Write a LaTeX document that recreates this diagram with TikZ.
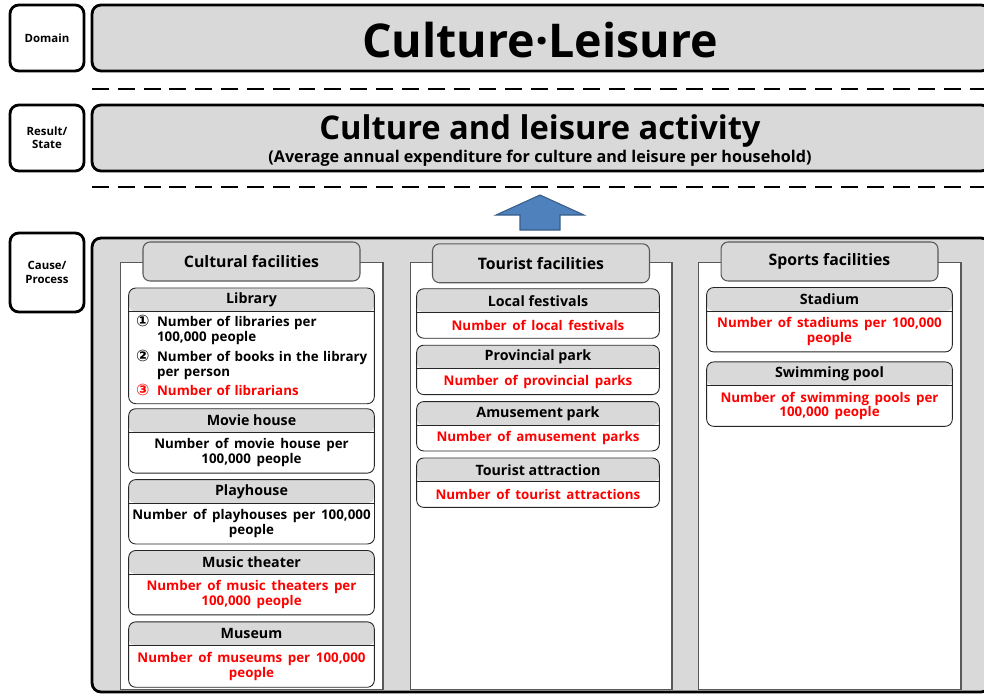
\documentclass[tikz,border=0pt]{standalone}
\usepackage{fontspec}
\setmainfont{Open Sans}
\newfontfamily\symfont{DejaVu Sans}
\usetikzlibrary{positioning}
\definecolor{boxgray}{HTML}{D9D9D9}
\definecolor{linegray}{HTML}{595959}
\definecolor{arrowfill}{HTML}{4F81BD}
\definecolor{arrowline}{HTML}{385D8A}
\definecolor{indred}{HTML}{FF0000}
\newcommand{\widespace}{\spaceskip=3.2pt plus 1pt minus 0.5pt\relax}
\newcommand{\narrowspace}{\spaceskip=2.7pt plus 1pt minus 0.5pt\relax}
\newcommand{\circnum}[1]{{\symfont\fontsize{9}{8.5}\selectfont #1}}
\tikzset{%
  levelbox/.style = {draw, line width=1.6pt, rounded corners=5pt, fill=white,
                     minimum width=1.48cm, align=center,
                     font=\fontsize{6.5}{7.5}\selectfont\bfseries},
  bar/.style      = {draw, line width=1.6pt, rounded corners=5pt, fill=boxgray,
                     minimum width=17.96cm},
  divider/.style  = {line width=1.7pt, dash pattern=on 9.6pt off 5.1pt},
  column/.style   = {draw=linegray, line width=0.6pt, fill=white,
                     minimum height=8.56cm},
  tab/.style      = {draw=linegray, line width=0.6pt, fill=boxgray, rounded corners=4pt,
                     minimum width=4.34cm, minimum height=0.78cm,
                     font=\fontsize{9}{10}\selectfont\bfseries},
  fw/.style       = {minimum width=4.9cm},
  fachead/.style  = {fill=boxgray, rounded corners=3pt, minimum height=0.46cm, inner sep=0pt,
                     fw, font=\fontsize{8.1}{8.5}\selectfont\bfseries},
  facbody/.style  = {inner sep=2pt, align=center, fw, minimum height=0.5cm,
                     font=\fontsize{7.6}{8.5}\selectfont\bfseries\widespace},
  facline/.style  = {draw=black!85, line width=0.5pt, rounded corners=4pt},
  hot/.style      = {text=indred},
  blockarrow/.style = {fill=arrowfill, draw=arrowline, line width=0.6pt},
}
% head, body and outline of one facility
\newcommand{\facility}[5]{%
  \node[fachead, #2] (#1) {#3};
  \node[facbody, below=0pt of #1, #4] (#1-b) {#5};
  \draw[facline] (#1.north west) rectangle (#1-b.south east);
  \draw[facline, rounded corners=0pt] (#1.south west) -- (#1.south east);
}
\begin{document}
\begin{tikzpicture}[x=0.02cm, y=-0.02cm]
  \clip (0,0) rectangle (984,696);

  % levels
  \node[levelbox, minimum height=1.32cm] (lvdomain) at (47,38)    {Domain};
  \node[levelbox, minimum height=1.32cm] (lvresult) at (47,138)   {Result/\\State};
  \node[levelbox, minimum height=1.58cm] (lvcause)  at (47,272.5) {Cause/\\Process};

  \node[bar, minimum height=1.32cm] (domain) at (541,38) {};
  \node[font=\fontsize{26.5}{30}\selectfont\bfseries] (domaintitle) at (540,40) {Culture·Leisure};
  \draw[divider] (92,89) -- (990,89);

  \node[bar, minimum height=1.32cm] (result) at (541,138) {};
  \node[font=\fontsize{18.6}{20}\selectfont\bfseries] (resulttitle) at (540,131) {Culture and leisure activity};
  \node[font=\fontsize{9.2}{10}\selectfont\bfseries] (resultnote) at (540,158)
    {(Average annual expenditure for culture and leisure per household)};
  \draw[divider] (92,187) -- (990,187);

  \draw[blockarrow] (520,230) -- (520,215) -- (496,215) -- (540,195)
    -- (584,215) -- (560,215) -- (560,230) -- cycle;

  \node[bar, minimum height=9.08cm] (cause) at (541,465) {};

  % columns
  \node[column, minimum width=5.26cm] (col1) at (251.5,476) {};
  \node[column, minimum width=5.24cm] (col2) at (541,476)   {};
  \node[column, minimum width=5.26cm] (col3) at (829.5,476) {};
  \node[tab] (cult)  at (col1.north) {Cultural facilities};
  \node[tab] (tour)  at ([yshift=-1pt]col2.north) {Tourist facilities};
  \node[tab] (sport) at (col3.north) {Sports facilities};

  % cultural facilities
  \facility{lib}{below=0.13cm of cult}{Library}{minimum height=1.8cm, text width=4.76cm, align=left,
      font=\fontsize{7.6}{8.5}\selectfont\bfseries\narrowspace}{%
    \hspace*{2pt}\begin{tabular}{@{}p{12pt}@{}l@{}}
      \circnum{①} & Number of libraries per\\
                  & 100,000 people\\[2pt]
      \circnum{②} & Number of books in the library\\
                  & per person\\[2pt]
      \textcolor{indred}{\circnum{③}} & \textcolor{indred}{Number of librarians}\\
    \end{tabular}}
  \facility{movie}{below=0.1cm of lib-b}{Movie house}{minimum height=0.8cm}
    {Number of movie house per\\100,000 people}
  \facility{play}{below=0.13cm of movie-b}{Playhouse}{minimum height=0.8cm}
    {Number of playhouses per 100,000\\people}
  \facility{music}{below=0.13cm of play-b}{Music theater}{minimum height=0.8cm, hot}
    {Number of music theaters per\\100,000 people}
  \facility{museum}{below=0.14cm of music-b}{Museum}{minimum height=0.82cm, hot}
    {Number of museums per 100,000\\people}

  % tourist facilities
  \begin{scope}[fw/.style={minimum width=4.84cm}]
  \facility{fest}{below=0.11cm of tour, xshift=-0.06cm}{Local festivals}{hot}
    {Number of local festivals}
  \facility{prov}{below=0.14cm of fest-b}{Provincial park}{hot}
    {Number of provincial parks}
  \facility{amuse}{below=0.14cm of prov-b}{Amusement park}{hot}
    {Number of amusement parks}
  \facility{attr}{below=0.14cm of amuse-b}{Tourist attraction}{hot}
    {Number of tourist attractions}
  \end{scope}

  % sports facilities
  \facility{stad}{below=0.12cm of sport}{Stadium}{minimum height=0.8cm, hot}
    {Number of stadiums per 100,000\\people}
  \facility{swim}{below=0.2cm of stad-b}{Swimming pool}{minimum height=0.8cm, hot}
    {Number of swimming pools per\\100,000 people}
\end{tikzpicture}
\end{document}
